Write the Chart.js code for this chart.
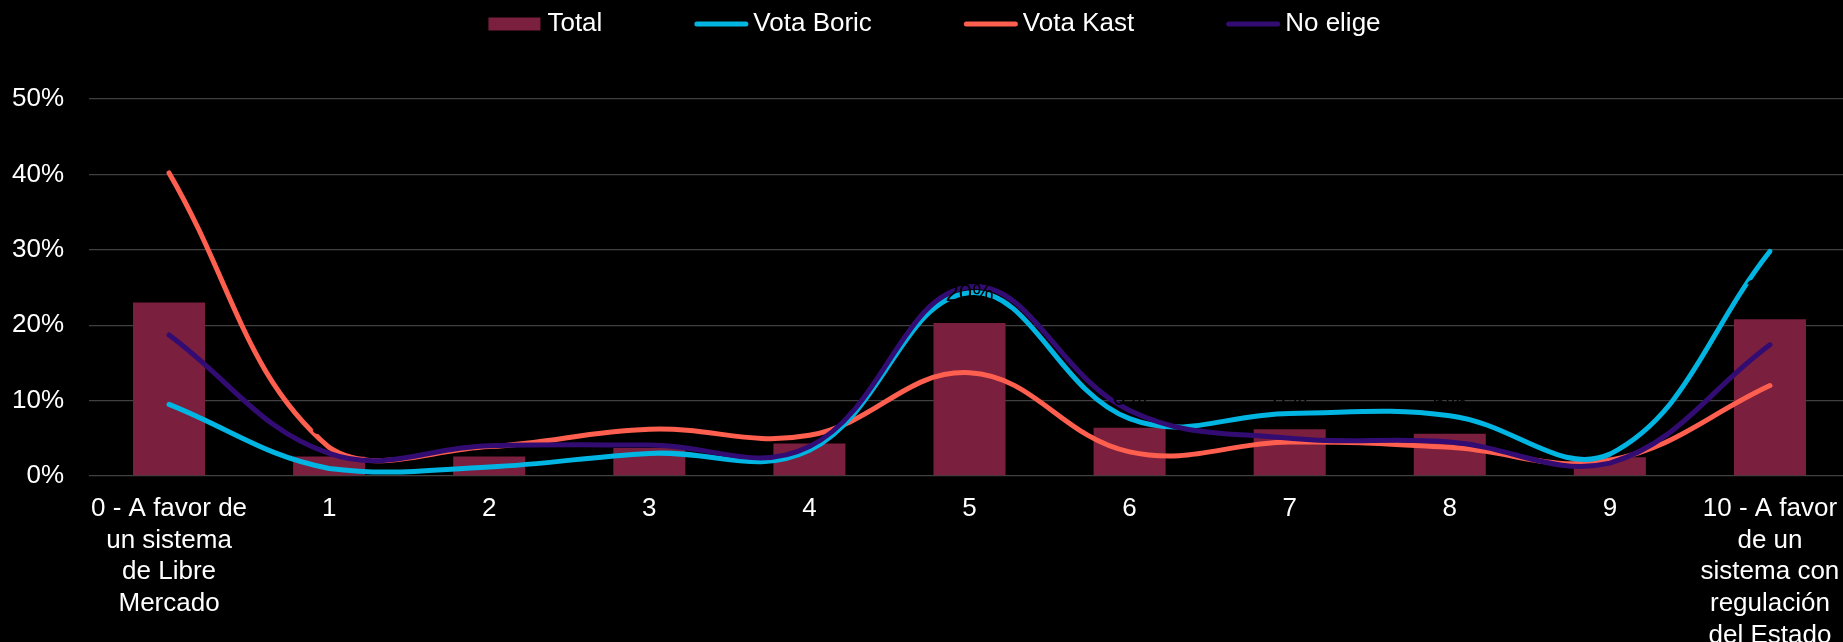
<!DOCTYPE html>
<html lang="es">
<head>
    <meta charset="UTF-8">
    <meta name="viewport" content="width=device-width, initial-scale=1.0">
    <title>Libre Mercado vs regulación del Estado</title>
    <style>
        html, body {
            margin: 0;
            padding: 0;
            background-color: #000;
            overflow: hidden;
        }
        canvas {
            display: block;
        }
    </style>
    <script src="https://cdn.jsdelivr.net/npm/chart.js"></script>
</head>
<body>
    <canvas id="grafico" width="1850" height="642"></canvas>

    <script>
        // Escala 0-10
        const categorias = [
            ['0 - A favor de', 'un sistema', 'de Libre', 'Mercado'],
            '1', '2', '3', '4', '5', '6', '7', '8', '9',
            ['10 - A favor', 'de un', 'sistema con', 'regulación', 'del Estado']
        ];

        // Porcentajes (%)
        const total     = [23.0, 2.6, 2.6, 3.7, 4.3, 20.3, 6.4, 6.2, 5.6, 2.5, 20.8];
        const votaBoric = [9.5, 1.0, 1.2, 3.0, 3.4, 24.3, 7.6, 8.3, 8.0, 2.9, 29.8];
        const votaKast  = [40.2, 3.8, 3.9, 6.2, 5.4, 13.7, 3.2, 4.5, 3.8, 2.1, 12.0];
        const noElige   = [18.7, 3.0, 4.0, 4.1, 3.9, 25.1, 8.7, 5.0, 4.5, 1.7, 17.4];

        const ejeY = { min: 0, max: 50, paso: 10 };

        const fuente = '"Liberation Sans", Arial, sans-serif';

        // etiquetas negras encima de las barras (solo se ven sobre las líneas)
        const etiquetasTotal = {
            id: 'etiquetasTotal',
            afterDatasetsDraw(chart) {
                const ctx = chart.ctx;
                const meta = chart.getDatasetMeta(0);
                ctx.save();
                ctx.font = '24px ' + fuente;
                ctx.fillStyle = '#000';
                ctx.textAlign = 'center';
                ctx.textBaseline = 'middle';
                meta.data.forEach((barra, i) => {
                    ctx.fillText(Math.round(total[i]) + '%', barra.x, barra.y - 29);
                });
                ctx.restore();
            }
        };

        // leyenda dibujada a mano para copiar el espaciado original
        const leyenda = {
            id: 'leyenda',
            afterDraw(chart) {
                const ctx = chart.ctx;
                ctx.save();
                ctx.font = '26px ' + fuente;
                ctx.textBaseline = 'middle';
                const marca = 54, sep = 5, hueco = 92;
                const items = chart.data.datasets.map(ds => ({
                    ds: ds,
                    w: marca + sep + ctx.measureText(ds.label).width
                }));
                const ancho = items.reduce((s, it) => s + it.w, 0) + hueco * (items.length - 1);
                let x = 934.5 - ancho / 2;
                const y = 24;
                items.forEach(({ ds, w }) => {
                    if (ds.type === 'bar') {
                        ctx.fillStyle = ds.backgroundColor;
                        ctx.fillRect(x, y - 6.5, 52, 13);
                    } else {
                        ctx.strokeStyle = ds.borderColor;
                        ctx.lineWidth = 5;
                        ctx.lineCap = 'round';
                        ctx.beginPath();
                        ctx.moveTo(x + 2.5, y);
                        ctx.lineTo(x + marca - 2.5, y);
                        ctx.stroke();
                    }
                    ctx.fillStyle = '#fff';
                    ctx.fillText(ds.label, x + marca + sep, y);
                    x += w + hueco;
                });
                ctx.restore();
            }
        };

        const linea = (label, data, color, orden) => ({
            type: 'line',
            label: label,
            data: data,
            borderColor: color,
            backgroundColor: color,
            borderWidth: 5,
            borderCapStyle: 'round',
            pointRadius: 0,
            fill: false,
            tension: 0.4,
            order: orden
        });

        new Chart(document.getElementById('grafico').getContext('2d'), {
            data: {
                labels: categorias,
                datasets: [
                    {
                        type: 'bar',
                        label: 'Total',
                        data: total,
                        backgroundColor: '#7A1F3D',
                        categoryPercentage: 1,
                        barPercentage: 0.45,
                        order: 4
                    },
                    linea('Vota Boric', votaBoric, '#00B5E2', 2),
                    linea('Vota Kast', votaKast, '#FF5F4F', 3),
                    linea('No elige', noElige, '#330C73', 1)
                ]
            },
            options: {
                responsive: false,
                animation: false,
                layout: {
                    padding: { top: 99, left: 0, right: 0, bottom: 0 }
                },
                plugins: {
                    legend: { display: false },
                    tooltip: { enabled: false }
                },
                scales: {
                    x: {
                        grid: { display: false },
                        border: { display: false },
                        ticks: {
                            color: '#fff',
                            font: { family: fuente, size: 26, lineHeight: 1.22 },
                            padding: 9,
                            maxRotation: 0,
                            autoSkip: false
                        },
                        afterFit: scale => { scale.height = 166; }
                    },
                    y: {
                        min: ejeY.min,
                        max: ejeY.max,
                        border: { display: false },
                        grid: { color: '#404040', lineWidth: 1.3, drawTicks: false },
                        ticks: {
                            stepSize: ejeY.paso,
                            color: '#fff',
                            font: { family: fuente, size: 26 },
                            padding: 25,
                            callback: v => v + '%'
                        },
                        afterFit: scale => { scale.width = 89; }
                    }
                }
            },
            plugins: [etiquetasTotal, leyenda]
        });
    </script>
</body>
</html>
